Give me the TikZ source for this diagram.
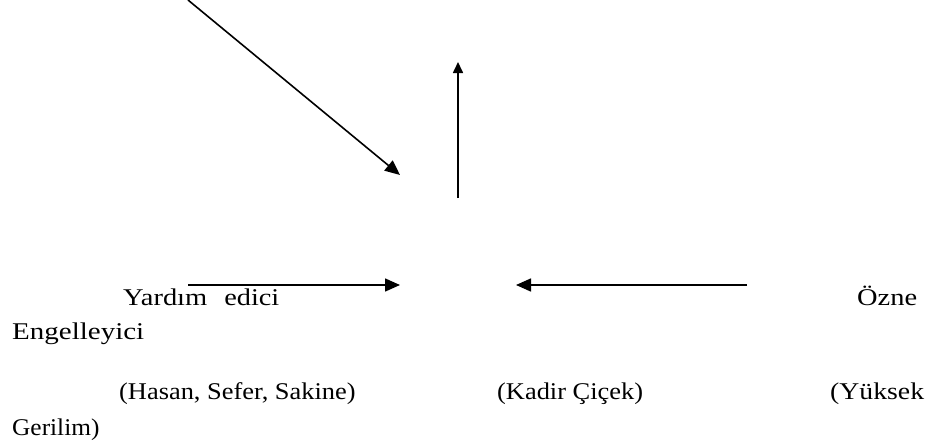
\documentclass[tikz,border=0pt]{standalone}
\usepackage{fontspec}
\setmainfont{Liberation Serif}[FakeStretch=1.1]
\usetikzlibrary{arrows.meta}
\begin{document}
\begin{tikzpicture}[x=1pt,y=-1pt,
  conn/.style={line width=1.6pt,-{Triangle[length=15pt,width=13pt]}},
  connsmall/.style={line width=1.6pt,-{Triangle[length=11pt,width=10pt]}},
  lbl/.style={anchor=base west,inner sep=0pt,font=\fontsize{24}{28}\selectfont}]
\useasboundingbox (0,0) rectangle (926,447);
\coordinate (d1) at (188,0);
\coordinate (d2) at (400,175);
\coordinate (v1) at (458,198);
\coordinate (v2) at (458,62);
\coordinate (h1) at (188,285);
\coordinate (h2) at (400,285);
\coordinate (r1) at (747,285);
\coordinate (r2) at (516,285);
\draw[conn] (d1) -- (d2);
\draw[connsmall] (v1) -- (v2);
\draw[conn] (h1) -- (h2);
\draw[conn] (r1) -- (r2);
\node[lbl] (yard) at (123,305) {\scalebox{1.078}[1]{Yardım}\hspace{17pt}\scalebox{1.072}[1]{edici}};
\node[lbl] (ozne) at (857,305) {\scalebox{1.077}[1]{Özne}};
\node[lbl] (eng) at (12,339) {\scalebox{1.098}[1]{Engelleyici}};
\node[lbl] (has) at (119,399) {(Hasan, Sefer, Sakine)};
\node[lbl] (kad) at (497,399) {(Kadir Çiçek)};
\node[lbl] (yuk) at (830,399) {\scalebox{1.05}[1]{(Yüksek}};
\node[lbl] (ger) at (12,435) {\scalebox{0.96}[1]{Gerilim)}};
\end{tikzpicture}
\end{document}
